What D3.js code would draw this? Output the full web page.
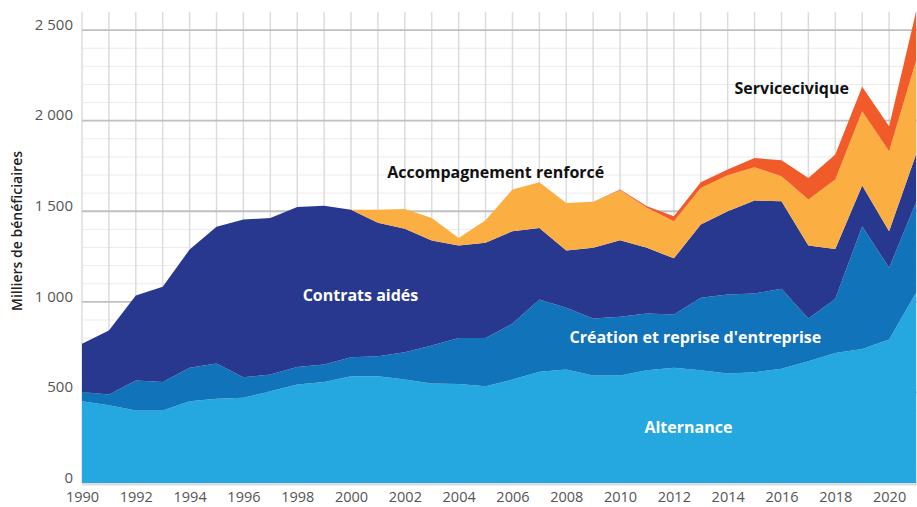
<!DOCTYPE html>
<html>
<head>
<meta charset="utf-8">
<script src="https://cdn.jsdelivr.net/npm/d3@7"></script>
<style>
  body { margin: 0; background: #fff; }
  svg { display: block; font-family: "Open Sans", sans-serif; }
</style>
</head>
<body>
<svg id="chart" width="917" height="507"></svg>
<script>
const years = d3.range(1990, 2022);

const alternance = [451, 429, 400, 400, 451, 465, 470, 507, 544, 558, 589, 589, 571, 549, 547, 534,
  571, 614, 626, 593, 593, 623, 636, 623, 604, 612, 630, 672, 718, 740, 792, 1050];
const creation = [52, 59, 166, 158, 185, 194, 114, 92, 97, 96, 105, 111, 151, 210, 254, 267,
  309, 399, 341, 315, 325, 312, 294, 399, 436, 434, 442, 236, 299, 677, 396, 498];
const contrats = [265, 354, 469, 525, 653, 755, 870, 864, 883, 877, 815, 736, 681, 579, 510, 525,
  510, 395, 316, 390, 422, 363, 310, 405, 460, 513, 483, 403, 275, 225, 202, 265];
const accompagnement = [0, 0, 0, 0, 0, 0, 0, 0, 0, 0, 0, 73, 110, 125, 42, 124,
  230, 252, 263, 254, 276, 221, 205, 202, 199, 184, 138, 254, 383, 410, 441, 517];
const serviceCivique = [0, 0, 0, 0, 0, 0, 0, 0, 0, 0, 0, 0, 0, 0, 0, 0,
  0, 0, 0, 0, 4, 9, 27, 31, 31, 51, 88, 119, 138, 135, 138, 270];

const keys = ['alternance', 'creation', 'contrats', 'accompagnement', 'service'];
const colors = ['#25a8e0', '#1173b9', '#29388f', '#fbae42', '#f15a29'];

const yTicks = [0, 500, 1000, 1500, 2000, 2500];
const xTicks = d3.range(1990, 2021, 2);

const rows = years.map((y, i) => ({
  year: y,
  alternance: alternance[i],
  creation: creation[i],
  contrats: contrats[i],
  accompagnement: accompagnement[i],
  service: serviceCivique[i]
}));

const margin = { top: 12, right: 1, bottom: 24, left: 82 };
const width = 917, height = 507;

const svg = d3.select('#chart');

const x = d3.scaleLinear()
  .domain([1990, 2021])
  .range([margin.left, width - margin.right]);

const y = d3.scaleLinear()
  .domain([0, 2600])
  .range([height - margin.bottom, margin.top]);

// grid
const grid = svg.append('g');
grid.selectAll('line.minor')
  .data(d3.range(100, 2600, 100).filter(v => v % 500 !== 0))
  .join('line')
  .attr('x1', x(1990)).attr('x2', width)
  .attr('y1', d => y(d)).attr('y2', d => y(d))
  .attr('stroke', '#ececec')
  .attr('stroke-width', 1);

grid.selectAll('line.vert')
  .data(years)
  .join('line')
  .attr('x1', d => x(d)).attr('x2', d => x(d))
  .attr('y1', margin.top).attr('y2', y(0))
  .attr('stroke', '#dcdcdc')
  .attr('stroke-width', 1.5);

grid.selectAll('line.major')
  .data(yTicks.slice(1))
  .join('line')
  .attr('x1', x(1990)).attr('x2', width)
  .attr('y1', d => y(d)).attr('y2', d => y(d))
  .attr('stroke', '#bfc0c0')
  .attr('stroke-width', 1.8);

grid.append('line')
  .attr('x1', x(1990)).attr('x2', width)
  .attr('y1', y(0) + 1).attr('y2', y(0) + 1)
  .attr('stroke', '#dcdcdc')
  .attr('stroke-width', 3);

// stacked areas
const series = d3.stack().keys(keys)(rows);

const area = d3.area()
  .x(d => x(d.data.year))
  .y0(d => y(d[0]))
  .y1(d => y(d[1]));

svg.append('g')
  .selectAll('path')
  .data(series)
  .join('path')
  .attr('fill', (d, i) => colors[i])
  .attr('d', area);

// axes
const yAxis = d3.axisLeft(y)
  .tickValues(yTicks)
  .tickSize(0)
  .tickPadding(9)
  .tickFormat(d => d3.format(',')(d).replace(',', ' '));

svg.append('g')
  .attr('transform', `translate(${margin.left},0)`)
  .call(yAxis)
  .call(g => g.select('.domain').remove())
  .selectAll('text')
  .attr('dy', '-0.05em')
  .attr('fill', '#555')
  .attr('font-size', 15)
  .attr('font-family', '"Open Sans", sans-serif');

const xAxis = d3.axisBottom(x)
  .tickValues(xTicks)
  .tickSize(0)
  .tickPadding(9)
  .tickFormat(d3.format('d'));

svg.append('g')
  .attr('transform', `translate(0,${y(0)})`)
  .call(xAxis)
  .call(g => g.select('.domain').remove())
  .selectAll('text')
  .attr('fill', '#555')
  .attr('font-size', 14.5)
  .attr('font-family', '"Open Sans", sans-serif');

svg.append('text')
  .attr('transform', `translate(22,${231}) rotate(-90)`)
  .attr('text-anchor', 'middle')
  .attr('font-size', 14)
  .attr('font-weight', 600)
  .attr('fill', '#222')
  .text('Milliers de bénéficiaires');

// series labels
const labels = [
  { text: 'Contrats aidés', year: 2000.35, value: 1035, fill: '#fff' },
  { text: "Création et reprise d'entreprise", year: 2012.8, value: 803, fill: '#fff' },
  { text: 'Alternance', year: 2012.54, value: 306, fill: '#fff' },
  { text: 'Accompagnement renforcé', year: 2005.38, value: 1715, fill: '#111' },
  { text: 'Servicecivique', year: 2016.38, value: 2177, fill: '#111' }
];

svg.append('g')
  .selectAll('text')
  .data(labels)
  .join('text')
  .attr('x', d => x(d.year))
  .attr('y', d => y(d.value))
  .attr('text-anchor', 'middle')
  .attr('dy', '0.35em')
  .attr('font-size', 16)
  .attr('font-weight', 700)
  .attr('fill', d => d.fill)
  .text(d => d.text);
</script>
</body>
</html>
